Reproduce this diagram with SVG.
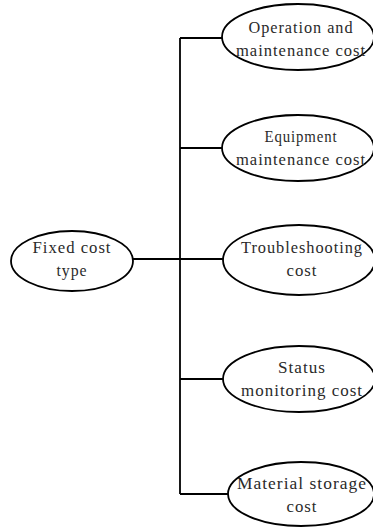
<svg xmlns="http://www.w3.org/2000/svg" width="373" height="527" viewBox="0 0 373 527">
<style>
.n ellipse{fill:#fff;stroke:#000;stroke-width:1.8}
.n text{font-family:"Liberation Serif","Noto Sans CJK SC",serif;font-size:17px;fill:#2a2a2a;text-anchor:middle;letter-spacing:1px}
#conn path{fill:none;stroke:#000;stroke-width:1.8}
</style>
<rect width="373" height="527" fill="#fff"/>
<g id="conn">
<path d="M133 259H223M180 38V494M180 38H223M180 148H223M180 379H223M180 494H228"/>
</g>
<g id="root" class="n">
<ellipse cx="72" cy="261" rx="61" ry="30"/>
<text x="72" y="253" textLength="79" lengthAdjust="spacingAndGlyphs">Fixed cost</text>
<text x="72" y="276" textLength="31" lengthAdjust="spacingAndGlyphs">type</text>
</g>
<g id="n1" class="n">
<ellipse cx="298" cy="37" rx="76" ry="33"/>
<text x="301" y="33" textLength="105" lengthAdjust="spacingAndGlyphs">Operation and</text>
<text x="301" y="56" textLength="130" lengthAdjust="spacingAndGlyphs">maintenance cost</text>
</g>
<g id="n2" class="n">
<ellipse cx="298" cy="148" rx="76" ry="33"/>
<text x="301" y="142" textLength="73" lengthAdjust="spacingAndGlyphs">Equipment</text>
<text x="301" y="165" textLength="130" lengthAdjust="spacingAndGlyphs">maintenance cost</text>
</g>
<g id="n3" class="n">
<ellipse cx="299" cy="260" rx="76" ry="35"/>
<text x="302" y="253" textLength="122" lengthAdjust="spacingAndGlyphs">Troubleshooting</text>
<text x="302" y="276" textLength="31" lengthAdjust="spacingAndGlyphs">cost</text>
</g>
<g id="n4" class="n">
<ellipse cx="299" cy="379" rx="76" ry="33"/>
<text x="302" y="373" textLength="48" lengthAdjust="spacingAndGlyphs">Status</text>
<text x="302" y="396" textLength="122" lengthAdjust="spacingAndGlyphs">monitoring cost</text>
</g>
<g id="n5" class="n">
<ellipse cx="301" cy="494" rx="73" ry="32"/>
<text x="302" y="489" textLength="130" lengthAdjust="spacingAndGlyphs">Material storage</text>
<text x="302" y="512" textLength="31" lengthAdjust="spacingAndGlyphs">cost</text>
</g>
</svg>
